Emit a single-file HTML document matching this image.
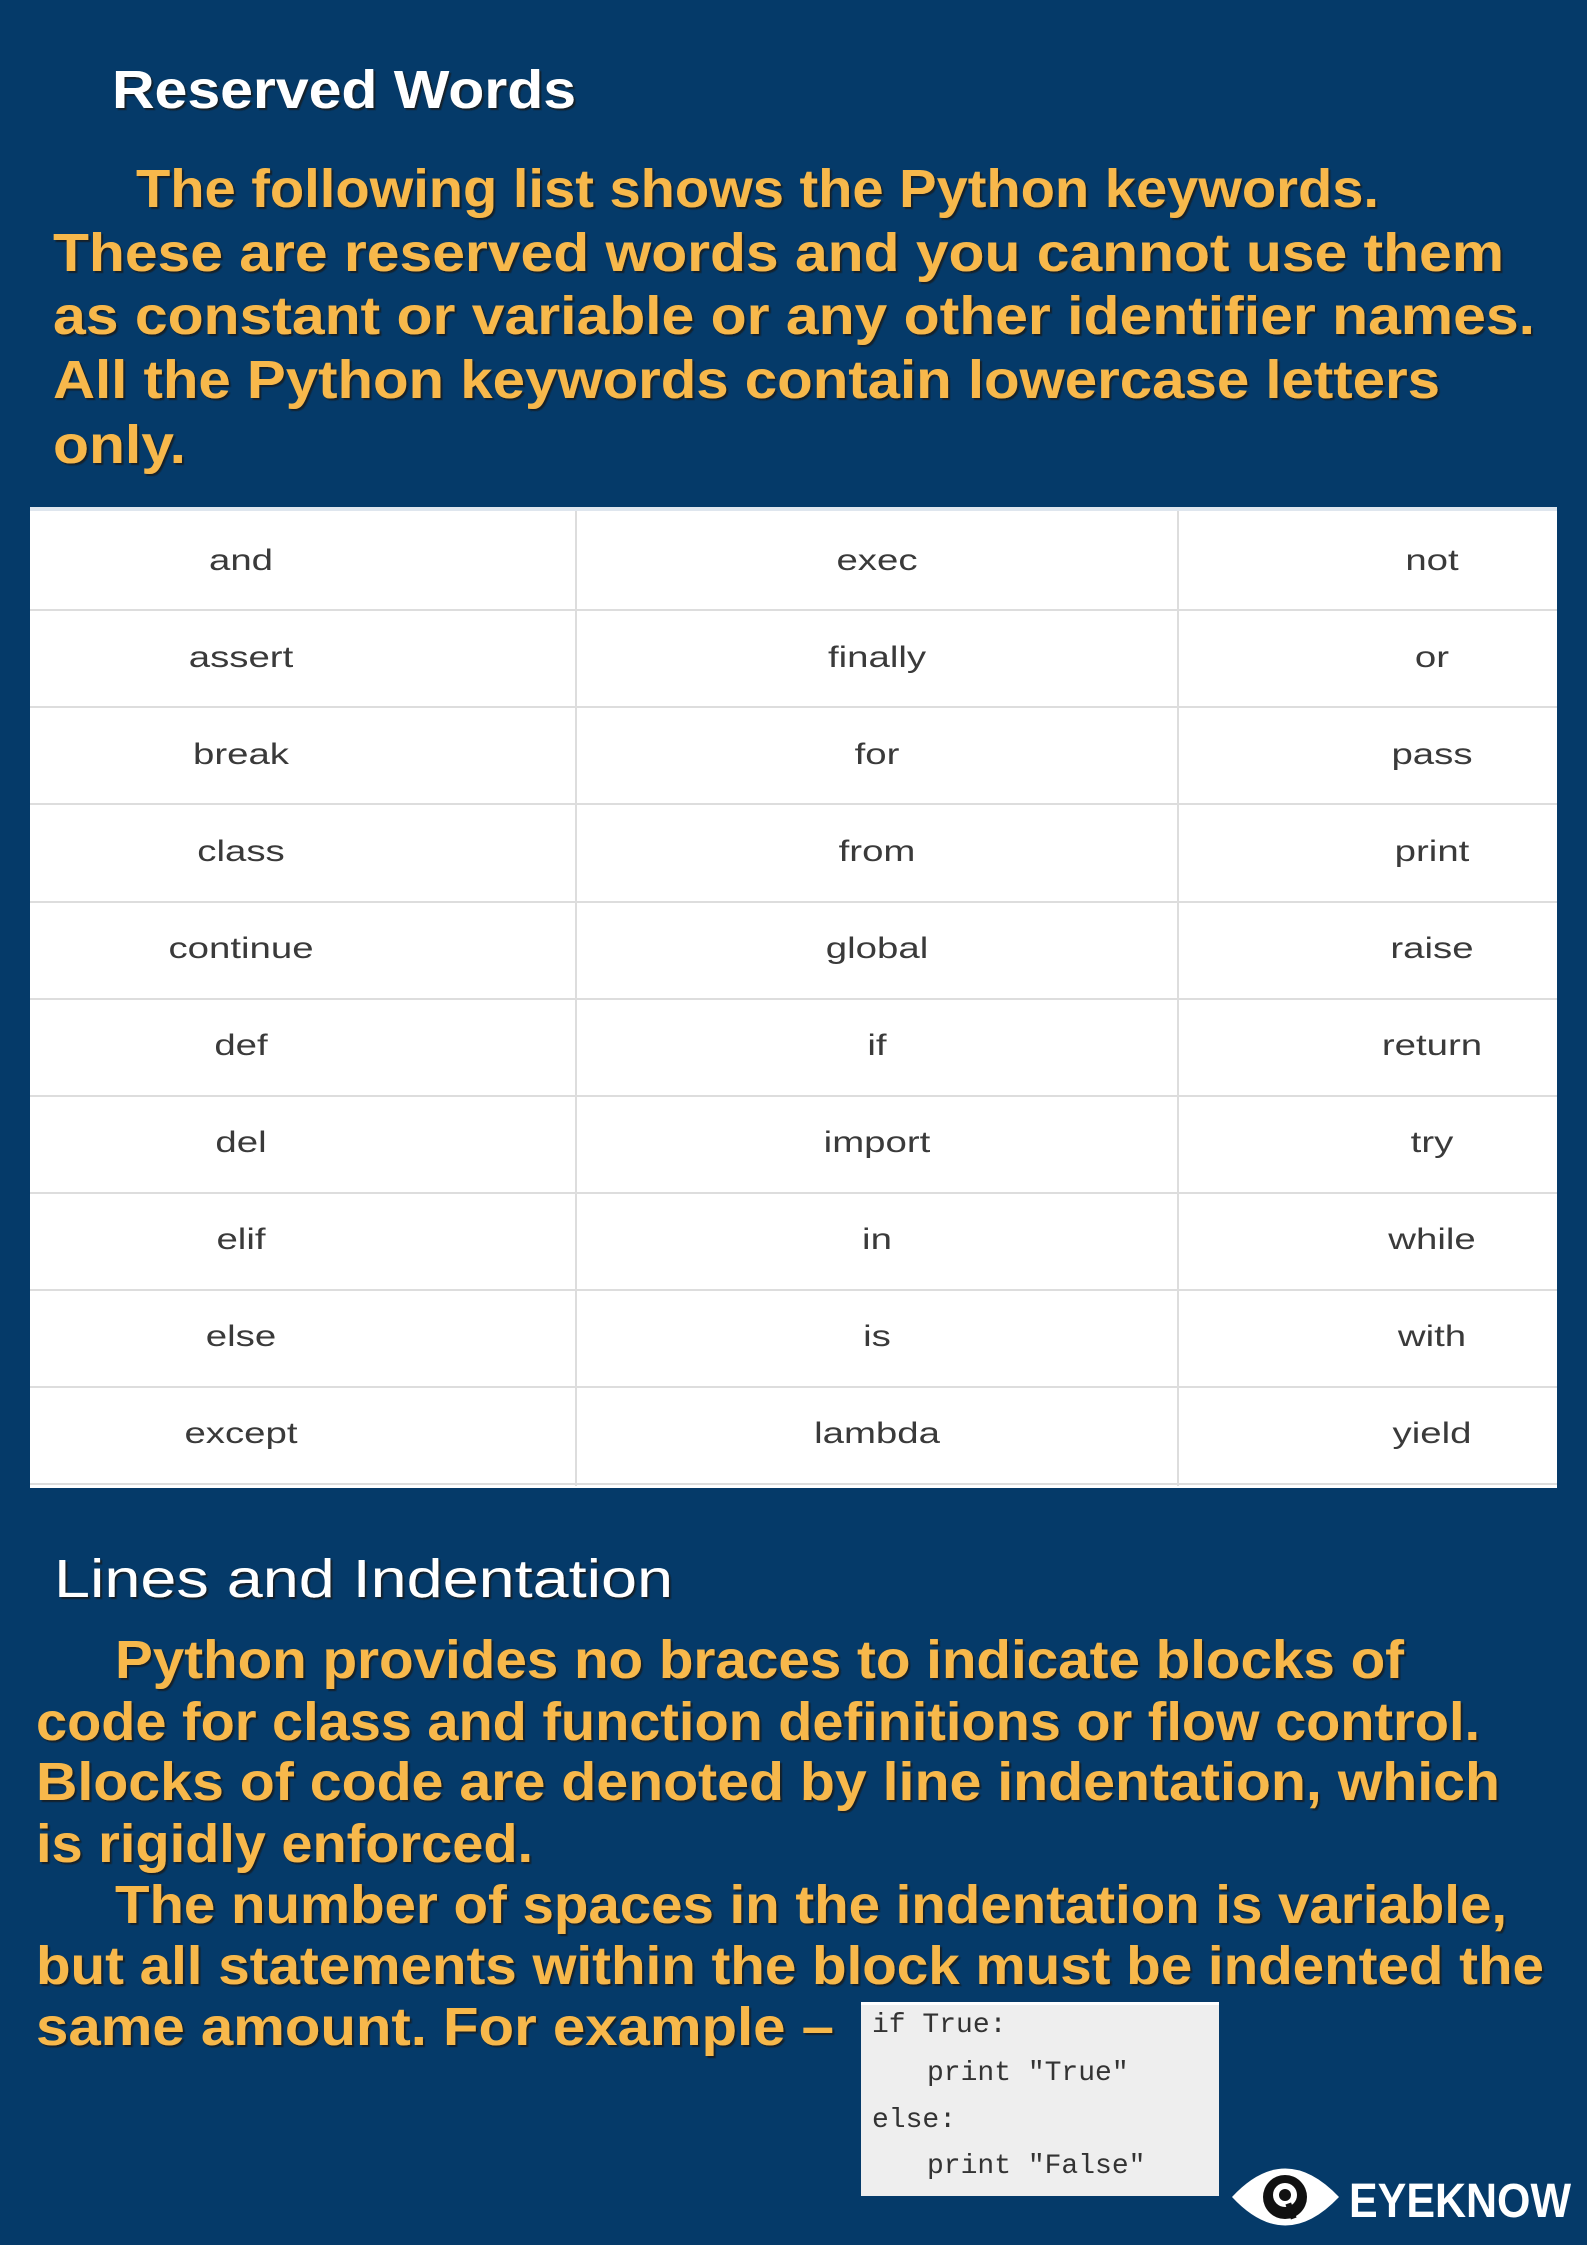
<!DOCTYPE html>
<html><head><meta charset="utf-8"><style>
html,body{margin:0;padding:0;background:#053a69;}
svg{display:block}
</style></head><body>
<svg width="1587" height="2245" viewBox="0 0 1587 2245" xmlns="http://www.w3.org/2000/svg">
<rect width="1587" height="2245" fill="#053a69"/>
<defs>
<filter id="sh" x="-5%" y="-20%" width="110%" height="140%"><feDropShadow dx="2" dy="2" stdDeviation="0.6" flood-color="#1a1a1a" flood-opacity="0.8"/></filter>
</defs>
<g font-family="Liberation Sans, sans-serif" font-weight="bold" lengthAdjust="spacingAndGlyphs">
<text x="112" y="108" font-size="54" fill="#ffffff" textLength="464" lengthAdjust="spacingAndGlyphs" filter="url(#sh)">Reserved Words</text>
<g fill="#f7b84b" font-size="54" filter="url(#sh)">
<text x="136" y="207" textLength="1243" lengthAdjust="spacingAndGlyphs">The following list shows the Python keywords.</text>
<text x="53" y="271" textLength="1451" lengthAdjust="spacingAndGlyphs">These are reserved words and you cannot use them</text>
<text x="53" y="334" textLength="1482" lengthAdjust="spacingAndGlyphs">as constant or variable or any other identifier names.</text>
<text x="53" y="398" textLength="1387" lengthAdjust="spacingAndGlyphs">All the Python keywords contain lowercase letters</text>
<text x="53" y="463" textLength="133" lengthAdjust="spacingAndGlyphs">only.</text>
</g>
<text x="54" y="1597" font-size="54" font-weight="normal" fill="#ffffff" textLength="619" lengthAdjust="spacingAndGlyphs" filter="url(#sh)">Lines and Indentation</text>
<g fill="#f7b84b" font-size="54" filter="url(#sh)">
<text x="115" y="1678" textLength="1289" lengthAdjust="spacingAndGlyphs">Python provides no braces to indicate blocks of</text>
<text x="36" y="1740" textLength="1444" lengthAdjust="spacingAndGlyphs">code for class and function definitions or flow control.</text>
<text x="36" y="1800" textLength="1464" lengthAdjust="spacingAndGlyphs">Blocks of code are denoted by line indentation, which</text>
<text x="36" y="1862" textLength="497" lengthAdjust="spacingAndGlyphs">is rigidly enforced.</text>
<text x="115" y="1923" textLength="1392" lengthAdjust="spacingAndGlyphs">The number of spaces in the indentation is variable,</text>
<text x="36" y="1984" textLength="1508" lengthAdjust="spacingAndGlyphs">but all statements within the block must be indented the</text>
<text x="36" y="2045" textLength="798" lengthAdjust="spacingAndGlyphs">same amount. For example –</text>
</g>
</g>
<!-- table -->
<rect x="30" y="507" width="1527" height="981" fill="#ffffff"/>
<rect x="30" y="507" width="1527" height="4" fill="#dfe6ee"/>
<g stroke="#dddddd" stroke-width="2">
<line x1="576" y1="511" x2="576" y2="1486"/>
<line x1="1178" y1="511" x2="1178" y2="1486"/>
<line x1="30" y1="610" x2="1557" y2="610"/>
<line x1="30" y1="707" x2="1557" y2="707"/>
<line x1="30" y1="804" x2="1557" y2="804"/>
<line x1="30" y1="902" x2="1557" y2="902"/>
<line x1="30" y1="999" x2="1557" y2="999"/>
<line x1="30" y1="1096" x2="1557" y2="1096"/>
<line x1="30" y1="1193" x2="1557" y2="1193"/>
<line x1="30" y1="1290" x2="1557" y2="1290"/>
<line x1="30" y1="1387" x2="1557" y2="1387"/>
<line x1="30" y1="1484" x2="1557" y2="1484"/>
</g>
<g font-family="Liberation Sans, Arial, sans-serif" font-size="30" fill="#3a3a3a" text-anchor="middle">
<g transform="translate(241,0)">
<text transform="translate(0,570) scale(1.28,1)">and</text>
<text transform="translate(0,667) scale(1.28,1)">assert</text>
<text transform="translate(0,764) scale(1.28,1)">break</text>
<text transform="translate(0,861) scale(1.28,1)">class</text>
<text transform="translate(0,958) scale(1.28,1)">continue</text>
<text transform="translate(0,1055) scale(1.28,1)">def</text>
<text transform="translate(0,1152) scale(1.28,1)">del</text>
<text transform="translate(0,1249) scale(1.28,1)">elif</text>
<text transform="translate(0,1346) scale(1.28,1)">else</text>
<text transform="translate(0,1443) scale(1.28,1)">except</text>
</g>
<g transform="translate(877,0)">
<text transform="translate(0,570) scale(1.28,1)">exec</text>
<text transform="translate(0,667) scale(1.28,1)">finally</text>
<text transform="translate(0,764) scale(1.28,1)">for</text>
<text transform="translate(0,861) scale(1.28,1)">from</text>
<text transform="translate(0,958) scale(1.28,1)">global</text>
<text transform="translate(0,1055) scale(1.28,1)">if</text>
<text transform="translate(0,1152) scale(1.28,1)">import</text>
<text transform="translate(0,1249) scale(1.28,1)">in</text>
<text transform="translate(0,1346) scale(1.28,1)">is</text>
<text transform="translate(0,1443) scale(1.28,1)">lambda</text>
</g>
<g transform="translate(1432,0)">
<text transform="translate(0,570) scale(1.28,1)">not</text>
<text transform="translate(0,667) scale(1.28,1)">or</text>
<text transform="translate(0,764) scale(1.28,1)">pass</text>
<text transform="translate(0,861) scale(1.28,1)">print</text>
<text transform="translate(0,958) scale(1.28,1)">raise</text>
<text transform="translate(0,1055) scale(1.28,1)">return</text>
<text transform="translate(0,1152) scale(1.28,1)">try</text>
<text transform="translate(0,1249) scale(1.28,1)">while</text>
<text transform="translate(0,1346) scale(1.28,1)">with</text>
<text transform="translate(0,1443) scale(1.28,1)">yield</text>
</g>
</g>
<!-- code box -->
<rect x="861" y="2002" width="358" height="194" fill="#eeeeee"/>
<rect x="861" y="2002" width="358" height="3" fill="#ffffff"/>
<g font-family="Liberation Mono, DejaVu Sans Mono, monospace" font-size="28" fill="#333333">
<text x="872" y="2032">if True:</text>
<text x="927" y="2080">print "True"</text>
<text x="872" y="2127">else:</text>
<text x="927" y="2173">print "False"</text>
</g>
<!-- logo -->
<g>
<path d="M1232,2197 Q1285,2140 1339,2197 Q1285,2254 1232,2197 Z" fill="#ffffff"/>
<circle cx="1285" cy="2197" r="22" fill="#111111"/>
<circle cx="1285" cy="2195" r="12" fill="#ffffff"/>
<circle cx="1285" cy="2195" r="6" fill="#111111"/>
<rect x="1288" y="2203" width="6" height="16" fill="#111111" transform="rotate(-20 1291 2211)"/>
</g>
<text x="1349" y="2217" font-family="Liberation Sans, sans-serif" font-size="48" font-weight="bold" fill="#ffffff" textLength="222" lengthAdjust="spacingAndGlyphs">EYEKNOW</text>
</svg>
</body></html>
